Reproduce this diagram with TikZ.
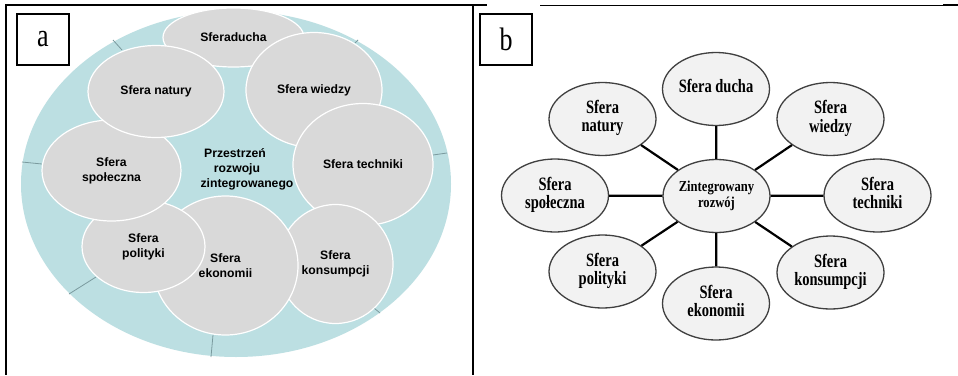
\documentclass[tikz,border=0pt]{standalone}
\usepackage{fontspec}
\usepackage{graphicx}
\setmainfont{Liberation Serif}
\newfontfamily\arialf{Liberation Sans}
\usetikzlibrary{shapes.geometric}
\definecolor{tealbg}{HTML}{BCDFE2}
\definecolor{sgray}{HTML}{D9D9D9}
\definecolor{bfill}{HTML}{F2F2F2}
\definecolor{bline}{HTML}{404040}
\definecolor{tickc}{HTML}{7A9A9E}
\newcommand\bstack[2]{\scalebox{1}[#1]{\begin{tabular}{@{}c@{}}#2\end{tabular}}}
\begin{document}
\begin{tikzpicture}[x=1pt,y=-1pt,
  sa/.style={ellipse, fill=sgray, draw=white, line width=1.2pt, inner sep=0pt, align=center,
    font=\arialf\bfseries\fontsize{12.2}{15}\selectfont},
  sb/.style={ellipse, fill=bfill, draw=bline, line width=1.3pt, inner sep=0pt,
    minimum width=107pt, minimum height=73pt, font=\bfseries\fontsize{14.5}{13.8}\selectfont},
  lbl/.style={draw=black, line width=1.8pt, inner sep=0pt, minimum width=52pt, minimum height=51pt,
    font=\fontsize{26}{26}\selectfont},
  link/.style={draw=black, line width=2.2pt},
  tickl/.style={draw=tickc, line width=0.8pt}]
\useasboundingbox (0,0) rectangle (958,375);
\fill[white] (0,0) rectangle (958,375);

% ---------------- panel a ----------------
\node[ellipse, fill=tealbg, minimum width=430pt, minimum height=346pt, inner sep=0pt] (big) at (236,184) {};
\draw[tickl] (113,40)--(122,50);
\draw[tickl] (22,162)--(42,164);
\draw[tickl] (69,294)--(96,277);
\draw[tickl] (211,357)--(213,335);
\draw[tickl] (374,308)--(380,313);
\draw[tickl] (433,155)--(447,153);
\draw[tickl] (355,43)--(358,40);

\node[sa, minimum width=141pt, minimum height=59pt] (duch) at (233.5,37.5) {Sferaducha};
\node[sa, minimum width=136pt, minimum height=115pt] (wied) at (314,90) {Sfera wiedzy};
\node[sa, minimum width=140pt, minimum height=122pt] (tech) at (363,164.5) {Sfera techniki};
\node[sa, minimum width=115pt, minimum height=119pt] (kons) at (335.5,264) {Sfera\\konsumpcji};
\node[sa, minimum width=145pt, minimum height=139pt] (ekon) at (225.5,265.5) {Sfera\\ekonomii};
\node[sa, minimum width=123pt, minimum height=92pt] (poli) at (143.5,246.5) {Sfera\\polityki};
\node[sa, minimum width=139pt, minimum height=101pt] (spol) at (111.5,170.5) {Sfera\\społeczna};
\node[sa, minimum width=136pt, minimum height=92pt] (natu) at (156,91.5) {Sfera natury};
\node[align=center, inner sep=0pt, font=\arialf\bfseries\fontsize{12.2}{15}\selectfont] (prz) at (247,169.5)
  {\hspace*{-24pt}Przestrzeń\\\hspace*{-20pt}rozwoju\\zintegrowanego};

\node[lbl] (la) at (43,39.5) {\scalebox{1}[1.25]{a}};

% ---------------- panel b ----------------
\node[sb] (bc) at (716.5,196) {\bstack{1.2}{\fontsize{12.6}{12.5}\selectfont Zintegrowany\\\fontsize{12.6}{12.5}\selectfont rozwój}};
\node[sb] (bduch) at (716,89) {\bstack{1.3}{Sfera ducha}};
\node[sb] (bnatu) at (602.5,119) {\bstack{1.3}{Sfera\\natury}};
\node[sb] (bwied) at (830.5,119) {\bstack{1.3}{Sfera\\wiedzy}};
\node[sb] (bspol) at (555,195.5) {\bstack{1.3}{Sfera\\społeczna}};
\node[sb] (btech) at (877.5,195.5) {\bstack{1.3}{Sfera\\techniki}};
\node[sb] (bpoli) at (602.5,271.5) {\bstack{1.3}{Sfera\\polityki}};
\node[sb] (bekon) at (716,303.5) {\bstack{1.3}{Sfera\\ekonomii}};
\node[sb] (bkons) at (830.5,272.5) {\bstack{1.3}{Sfera\\konsumpcji}};
\foreach \n in {bduch,bnatu,bwied,bspol,btech,bpoli,bekon,bkons}
  \draw[link] (bc) -- (\n);

\node[lbl] (lb) at (506,39.5) {\scalebox{1}[1.25]{b}};

% ---------------- frame ----------------
\draw[line width=2.2pt] (6,4) -- (6,375);
\draw[line width=2.2pt] (473,4) -- (473,375);
\draw[line width=1.6pt] (5,5) -- (487,5);
\draw[line width=0.9pt] (540,5) -- (943,5);
\draw[line width=1.8pt] (943,5) -- (958,5);
\end{tikzpicture}
\end{document}
